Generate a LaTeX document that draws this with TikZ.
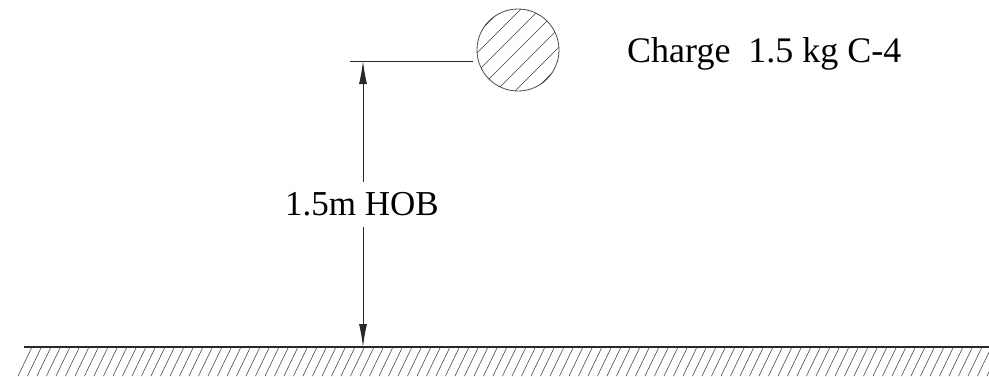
\documentclass[tikz,border=0pt]{standalone}
\usepackage{fontspec}
\setmainfont{Liberation Serif}
\usepackage{tikz}
\usetikzlibrary{arrows.meta,calc}
\definecolor{linecol}{RGB}{40,40,40}

\begin{document}
\begin{tikzpicture}[x=1pt, y=-1pt,
  thin line/.style={draw=linecol, line width=0.9pt},
  hatch line/.style={draw=black!75, line width=0.55pt},
  dimarrow/.style={thin line, -{Latex[length=23pt, width=8pt]}},
  label text/.style={font=\fontsize{35}{40}\selectfont, inner sep=0pt},
]
  \useasboundingbox (0,0) rectangle (989,376);

  % charge
  \node[circle, draw=black!70, line width=0.8pt, minimum size=82pt, inner sep=0pt]
        (charge) at (518,50) {};
  \begin{scope}
    \clip (charge.center) circle (41pt);
    \foreach \d in {-114,-95,...,120}
      \draw[hatch line] ($(charge.center)+(\d-50,50)$) -- ++(100,-100);
  \end{scope}
  \node[label text, font=\fontsize{36}{42}\selectfont, anchor=base west]
        (chargelabel) at (627,62) {Charge\ \ 1.5 kg C-4};

  % height dimension
  \coordinate (ext) at (350,61);
  \coordinate (extend) at (473,61);
  \coordinate (top) at (363,61);
  \coordinate (foot) at (363,347);
  \draw[thin line] (ext) -- (extend);
  \node[label text, minimum height=45pt] (hob) at (362,204.5) {1.5m HOB};
  \draw[dimarrow] (hob.north -| top) -- (top);
  \draw[dimarrow] (hob.south -| foot) -- (foot);

  % ground
  \coordinate (gl) at (24,347);
  \coordinate (gr) at (989,347);
  \draw[draw=linecol, line width=1.2pt] (gl) -- (gr);
  \begin{scope}
    \clip (0,347) rectangle (989,376);
    \foreach \x in {32,41.5,...,1010}
      \draw[hatch line] (\x,347) -- ++(-14,29);
  \end{scope}
\end{tikzpicture}
\end{document}
